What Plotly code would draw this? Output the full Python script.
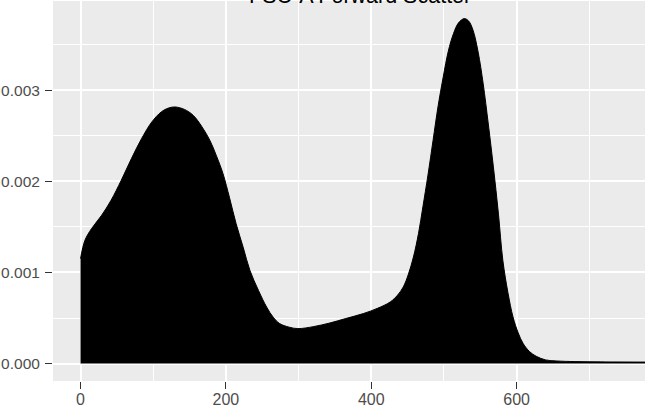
import plotly.graph_objects as go

# FSC-A values (x) and density estimates (y)
fsc_values = [0, 6, 15, 29, 42, 56, 70, 84, 98, 111, 121, 130, 143, 155, 167, 178, 187, 196,
              205, 214, 224, 233, 245, 256, 265, 274, 287, 299, 320, 343, 365, 389, 408, 426,
              436, 444, 451, 458, 465, 471, 478, 485, 492, 499, 506, 513, 520, 528, 534, 540,
              547, 554, 561, 568, 575, 581, 588, 595, 602, 609, 618, 627, 640, 655, 680, 701,
              730, 760, 790]
density = [0.001153, 0.001353, 0.00148, 0.001628, 0.001793, 0.002012, 0.00225, 0.00247,
           0.002652, 0.002762, 0.002805, 0.002817, 0.00279, 0.002725, 0.0026, 0.00245, 0.00228,
           0.002085, 0.00182, 0.001537, 0.00127, 0.001024, 0.00080, 0.000621, 0.00051, 0.000439,
           0.000400, 0.000384, 0.000405, 0.000446, 0.000495, 0.000549, 0.000605, 0.000676,
           0.00075, 0.000841, 0.00098, 0.00117, 0.00143, 0.00172, 0.00207, 0.00245, 0.00283,
           0.003146, 0.00343, 0.00362, 0.00374, 0.003787, 0.00376, 0.00366, 0.00342, 0.00307,
           0.00263, 0.00216, 0.00164, 0.001134, 0.00078, 0.000512, 0.00034, 0.00022, 0.00013,
           0.00008, 0.00004, 0.000029, 0.000022, 0.00002, 0.000018, 0.000017, 0.000016]

title_text = "FSC-A Forward Scatter"
x_ticks = [0, 200, 400, 600]
y_ticks = [0.0, 0.001, 0.002, 0.003]
y_tick_labels = ["0.000", "0.001", "0.002", "0.003"]

fig = go.Figure()
fig.add_trace(go.Scatter(
    x=fsc_values, y=density, mode="lines", fill="tozeroy",
    fillcolor="black", line=dict(color="black", width=1, shape="spline", smoothing=1.0),
    showlegend=False, hoverinfo="skip"))

x_tick_font = dict(family="Liberation Sans, Arial, sans-serif", size=16, color="#4D4D4D")
y_tick_font = dict(family="Liberation Sans, Arial, sans-serif", size=15.5, color="#4D4D4D")

fig.update_layout(
    width=645, height=409,
    margin=dict(l=53, r=0, t=1, b=28, pad=0),
    paper_bgcolor="white", plot_bgcolor="#EBEBEB",
    xaxis=dict(range=[-37.9, 776.6], tickvals=x_ticks, ticks="outside", ticklen=7,
               tickwidth=1.4, tickcolor="#333333", showgrid=True, gridcolor="white",
               gridwidth=2, zeroline=False, showline=False, tickfont=x_tick_font,
               ticklabelstandoff=-3, automargin=False,
               minor=dict(dtick=100, tick0=0, showgrid=True, gridcolor="white", gridwidth=1, ticks="")),
    yaxis=dict(range=[-0.000191, 0.003980], tickvals=y_ticks, ticktext=y_tick_labels,
               ticks="outside", ticklen=7, tickwidth=1.4, tickcolor="#333333",
               showgrid=True, gridcolor="white", gridwidth=2, zeroline=False, showline=False,
               tickfont=y_tick_font, ticklabelstandoff=2, automargin=False,
               minor=dict(dtick=0.0005, tick0=0, showgrid=True, gridcolor="white", gridwidth=1, ticks="")),
    annotations=[dict(text=title_text, xref="paper", yref="paper", x=0.5186, y=1,
                      xanchor="center", yanchor="bottom", yshift=-9, showarrow=False,
                      font=dict(family="Liberation Sans, Arial, sans-serif", size=21.5, color="black"))],
)

fig.write_html("out.html", config={"displayModeBar": False},
               post_script="document.body.style.margin='0';document.body.style.overflow='hidden';")
